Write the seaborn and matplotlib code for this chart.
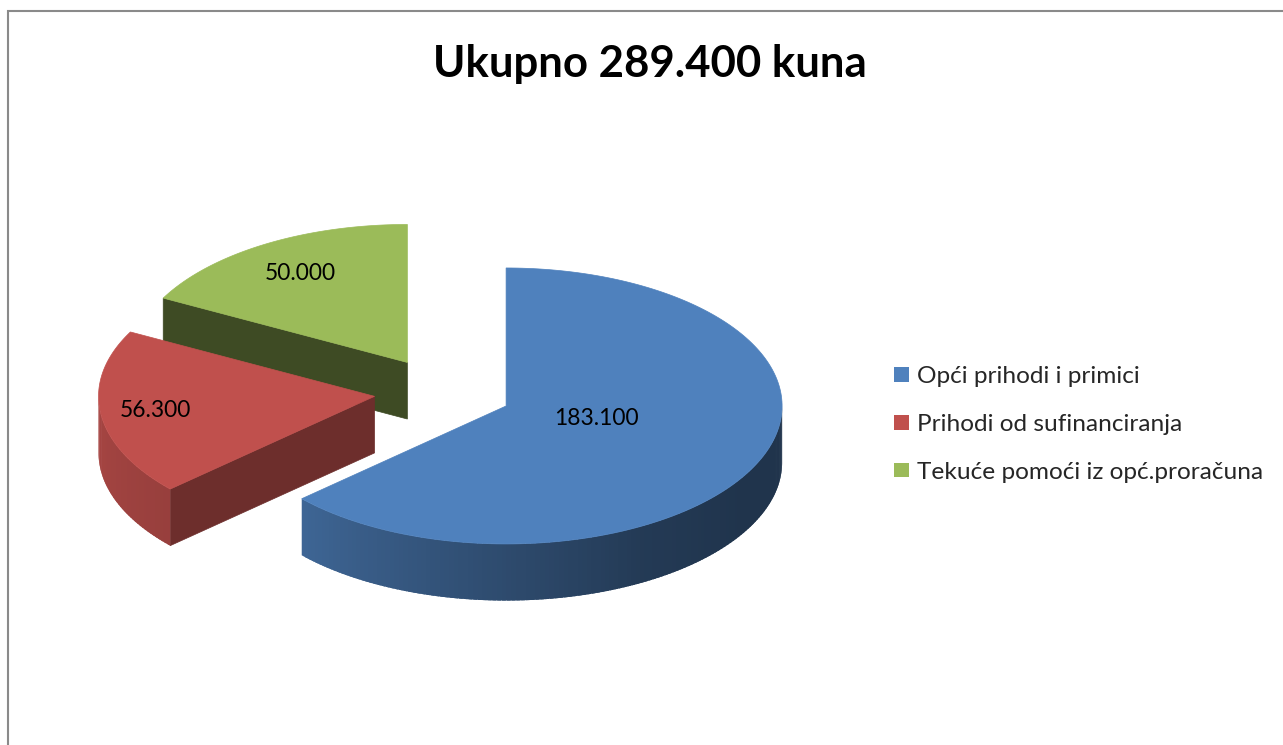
import numpy as np
import matplotlib.pyplot as plt
import matplotlib.colors as mcolors
from matplotlib.patches import Patch, Rectangle
import seaborn as sns

# Podaci
categories = ['Opći prihodi i primici', 'Prihodi od sufinanciranja',
              'Tekuće pomoći iz opć.proračuna']
values = [183100, 56300, 50000]
title = 'Ukupno 289.400 kuna'

sns.set_theme(style='white')
plt.rcParams['font.family'] = ['Lato', 'DejaVu Sans']
palette = sns.color_palette(['#4F81BD', '#C0504D', '#9BBB59'])

# Stil 3D prikaza
explode = 0.25
depth = 0.41
wall_ang = [180, 222, 270, 300, 330, 360]
wall_shade = [0.87, 0.79, 0.58, 0.45, 0.40, 0.40]
face_shade = [0.5, 0.57, 0.40]
label_dist = [0.34, 0.8, 0.75]
label_turn = [8, 0, 0]


def shade(c, f):
    return tuple(np.array(mcolors.to_rgb(c)) * f)


def fmt(v):
    return f'{v:,}'.replace(',', '.')


fig = plt.figure(figsize=(12.83, 7.45), dpi=100)
ax = fig.add_axes([0, 0, 1, 1])
ax.set_xlim(-443 / 276, (1283 - 443) / 276)
ax.set_ylim(-(745 - 392) / 138, 392 / 138)
ax.axis('off')

total = sum(values)
fracs = np.array(values) / total
ends = 90 - np.cumsum(fracs) * 360
starts = ends + fracs * 360

slices = []
for i in range(len(values)):
    a1, a2 = ends[i], starts[i]
    mid = np.deg2rad((a1 + a2) / 2)
    ox, oy = explode * np.cos(mid), explode * np.sin(mid)
    slices.append((oy, i, a1, a2, mid, ox))

# crtanje od straga prema naprijed
for oy, i, a1, a2, mid, ox in sorted(slices, reverse=True):
    col = palette[i]
    # bocne plohe (rezovi)
    for a, normal in [(a1, a1 - 90), (a2, a2 + 90)]:
        if np.sin(np.deg2rad(normal)) < -1e-6:
            r = np.deg2rad(a)
            xs = [ox, ox + np.cos(r), ox + np.cos(r), ox]
            ys = [oy, oy + np.sin(r), oy + np.sin(r) - depth, oy - depth]
            fc = shade(col, face_shade[i])
            ax.fill(xs, ys, color=fc, lw=0.5, ec=fc)
    # vanjski zid (preklapajuci segmenti da nema procjepa)
    lo = max(a1, -180) if a1 < 0 else max(a1, 180)
    hi = min(a2, 0) if a1 < 0 else min(a2, 360)
    if hi > lo:
        ts = np.linspace(lo, hi, int(hi - lo) + 2)
        for t0, t1 in zip(ts[:-1], ts[1:]):
            t1x = min(t1 + 0.8, hi)
            tt = np.deg2rad(np.linspace(t0, t1x, 4))
            xs = np.r_[ox + np.cos(tt), ox + np.cos(tt[::-1])]
            ys = np.r_[oy + np.sin(tt), oy + np.sin(tt[::-1]) - depth]
            f = np.interp(((t0 + t1) / 2) % 360, wall_ang, wall_shade)
            fc = shade(col, f)
            ax.fill(xs, ys, color=fc, lw=0)
    # gornja ploha
    th = np.deg2rad(np.linspace(a1, a2, 200))
    xs = np.r_[ox, ox + np.cos(th)]
    ys = np.r_[oy, oy + np.sin(th)]
    ax.fill(xs, ys, color=col, lw=0.5, ec=col)
    # oznaka vrijednosti
    d = label_dist[i]
    lm = mid + np.deg2rad(label_turn[i])
    ax.text(ox + d * np.cos(lm), oy + d * np.sin(lm), fmt(values[i]),
            ha='center', va='center', fontsize=16.4, color='black')

fig.text(650 / 1283, 1 - 77 / 745, title, ha='center', va='baseline',
         fontsize=31.5, fontweight='bold', color='black')

handles = [Patch(facecolor=palette[i], edgecolor='none') for i in range(len(values))]
fig.legend(handles=handles, labels=categories, loc='upper left',
           bbox_to_anchor=(894 / 1283, 1 - 366 / 745), frameon=False,
           fontsize=17.6, handlelength=0.62, handleheight=0.55,
           handletextpad=0.33, labelspacing=1.1, borderpad=0, borderaxespad=0)

fig.add_artist(Rectangle((7.5 / 1283, -0.1), 1.2, 1.1 - 10.5 / 745,
                         transform=fig.transFigure, fill=False,
                         edgecolor='#8a8a8a', lw=1.5))

fig.savefig('out.png', dpi=100, facecolor='white')
